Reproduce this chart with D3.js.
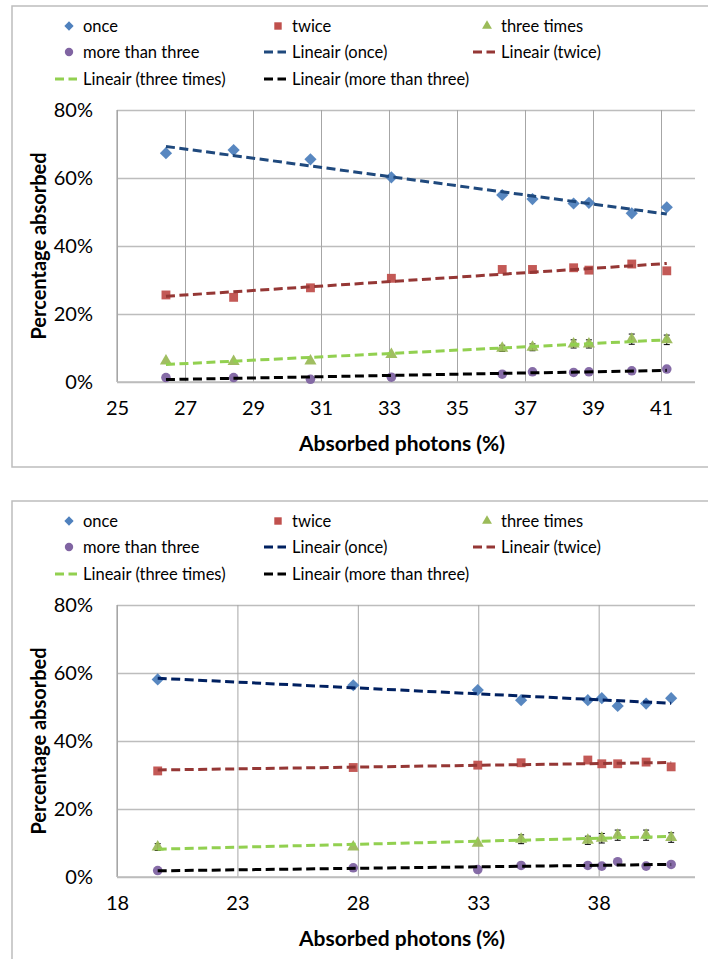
<!DOCTYPE html>
<html>
<head>
<meta charset="utf-8">
<script src="https://cdn.jsdelivr.net/npm/d3@7"></script>
<style>
  html, body { margin: 0; padding: 0; background: #fff; }
  svg { display: block; }
  text { font-family: Lato, "Open Sans", sans-serif; fill: #000; }
</style>
</head>
<body>
<svg id="chart" width="708" height="959"></svg>
<script>
// Upper panel
const topX      = [26.44, 28.43, 30.69, 33.07, 36.33, 37.22, 38.43, 38.88, 40.14, 41.17];
const topOnce   = [67.3, 68.2, 65.5, 60.2, 55.0, 53.8, 52.5, 52.7, 49.6, 51.4];
const topTwice  = [25.6, 24.9, 27.7, 30.5, 33.1, 33.1, 33.6, 32.9, 34.7, 32.7];
const topThree  = [6.2, 6.0, 6.2, 8.1, 9.9, 10.2, 11.2, 11.2, 12.6, 12.4];
const topMore   = [1.3, 1.3, 0.8, 1.4, 2.3, 3.0, 2.8, 3.0, 3.3, 3.8];
const topThreeErr = [0, 0, 0, 0, 0.9, 1.0, 1.2, 1.2, 1.5, 1.4];
const topXTicks = [25, 27, 29, 31, 33, 35, 37, 39, 41];

// Lower panel
const botX      = [19.69, 27.81, 32.98, 34.78, 37.55, 38.13, 38.79, 39.97, 41.01];
const botOnce   = [58.1, 56.4, 55.0, 52.0, 52.0, 52.6, 50.3, 51.0, 52.6];
const botTwice  = [31.2, 32.2, 32.9, 33.6, 34.4, 33.3, 33.3, 33.8, 32.4];
const botThree  = [8.8, 8.8, 9.9, 11.1, 10.8, 11.4, 12.3, 12.3, 11.6];
const botMore   = [1.9, 2.7, 2.2, 3.4, 3.4, 3.2, 4.5, 3.2, 3.7];
const botThreeErr = [1.0, 0, 0, 1.3, 1.2, 1.4, 1.5, 1.5, 1.4];
const botXTicks = [18, 23, 28, 33, 38];

const yTicks = [0, 20, 40, 60, 80];
const seriesNames = ["once", "twice", "three times", "more than three"];
const xTitle = "Absorbed photons (%)";
const yTitle = "Percentage absorbed";

const svg = d3.select("#chart");

const markerColors = ["#4F81BD", "#C0504D", "#9BBB59", "#8064A2"];
const symbols = [d3.symbolDiamond2, d3.symbolSquare2, d3.symbolTriangle2, d3.symbolCircle];
const symbolSizes = [95, 100, 105, 72];
const legendSizes = [55, 70, 70, 55];

function fitLine(xs, ys) {
  const n = xs.length;
  const mx = d3.mean(xs), my = d3.mean(ys);
  let sxy = 0, sxx = 0;
  for (let i = 0; i < n; i++) { sxy += (xs[i] - mx) * (ys[i] - my); sxx += (xs[i] - mx) ** 2; }
  const b = sxy / sxx, a = my - b * mx;
  const x0 = d3.min(xs), x1 = d3.max(xs);
  return [[x0, a + b * x0], [x1, a + b * x1]];
}

function drawPanel(top, cfg) {
  const g = svg.append("g").attr("transform", `translate(0,${top})`);

  // outer frame
  g.append("rect").attr("x", 12).attr("y", 0).attr("width", 710).attr("height", cfg.frameH)
    .attr("fill", "#fff").attr("stroke", "#BDBDBD").attr("stroke-width", 1.5);

  const left = 117, right = 695, plotTop = 104, plotBottom = 376;
  const x = d3.scaleLinear().domain(cfg.xDomain).range([left, right]);
  const y = d3.scaleLinear().domain([0, 80]).range([plotBottom, plotTop]);

  // horizontal gridlines + y labels
  const yAxis = d3.axisLeft(y).tickValues(yTicks).tickFormat(d => d + "%")
    .tickSizeInner(-(right - left)).tickSizeOuter(0).tickPadding(24);
  const yg = g.append("g").attr("transform", `translate(${left},0)`).call(yAxis);
  yg.select(".domain").remove();
  yg.selectAll(".tick line").attr("stroke", "#BDBDBD").attr("stroke-width", 1.3);
  yg.selectAll(".tick text").attr("font-size", 20).attr("x", -24)
    .style("font-family", "Lato, sans-serif");

  // vertical gridlines + x labels
  const xAxis = d3.axisBottom(x).tickValues(cfg.xTicks).tickFormat(d3.format("d"))
    .tickSizeInner(-(plotBottom - plotTop)).tickSizeOuter(0).tickPadding(19);
  const xg = g.append("g").attr("transform", `translate(0,${plotBottom})`).call(xAxis);
  xg.select(".domain").remove();
  xg.selectAll(".tick line").attr("stroke", "#A6A6A6").attr("stroke-width", 1);
  xg.selectAll(".tick text").attr("font-size", 20).style("font-family", "Lato, sans-serif");

  // axis lines
  g.append("line").attr("x1", left).attr("x2", left).attr("y1", plotTop).attr("y2", plotBottom)
    .attr("stroke", "#A6A6A6").attr("stroke-width", 1.2);
  g.append("line").attr("x1", left).attr("x2", right).attr("y1", plotBottom).attr("y2", plotBottom)
    .attr("stroke", "#BDBDBD").attr("stroke-width", 1.5);

  // axis titles
  g.append("text").attr("x", (left + right) / 2 - 4).attr("y", plotBottom + 69)
    .attr("text-anchor", "middle").attr("font-size", 21).attr("font-weight", "bold").text(xTitle);
  g.append("text").attr("transform", `translate(46,${(plotTop + plotBottom) / 2}) rotate(-90)`)
    .attr("text-anchor", "middle").attr("font-size", 20).attr("font-weight", "bold").text(yTitle);

  const lineGen = d3.line().x(d => x(d[0])).y(d => y(d[1]));
  const series = cfg.series;

  // error bars on "three times" (behind the markers)
  const eg = g.append("g");
  cfg.xs.forEach((xv, i) => {
    const e = cfg.threeErr[i];
    if (!e) return;
    const cx = x(xv), yt = y(series[2][i] + e), yb = y(series[2][i] - e);
    eg.append("line").attr("x1", cx).attr("x2", cx).attr("y1", yt).attr("y2", yb)
      .attr("stroke", "#000").attr("stroke-width", 1);
    [yt, yb].forEach(yy => eg.append("line").attr("x1", cx - 3).attr("x2", cx + 3)
      .attr("y1", yy).attr("y2", yy).attr("stroke", "#000").attr("stroke-width", 1));
  });

  // markers
  series.forEach((vals, si) => {
    const sym = d3.symbol().type(symbols[si]).size(symbolSizes[si]);
    g.append("g").selectAll("path").data(cfg.xs.map((xv, i) => [xv, vals[i]])).join("path")
      .attr("transform", d => `translate(${x(d[0])},${y(d[1])})`)
      .attr("d", sym).attr("fill", markerColors[si]).attr("opacity", 0.95);
  });

  // linear trend lines
  series.forEach((vals, si) => {
    g.append("path").datum(fitLine(cfg.xs, vals)).attr("d", lineGen)
      .attr("fill", "none").attr("stroke", cfg.trendColors[si])
      .attr("stroke-width", 3).attr("stroke-dasharray", "9,4.5");
  });

  // legend
  const colText = [83, 292, 501];
  const rowY = [20, 46, 73];
  const entries = [
    { kind: "m", s: 0 }, { kind: "m", s: 1 }, { kind: "m", s: 2 },
    { kind: "m", s: 3 }, { kind: "l", s: 0 }, { kind: "l", s: 1 },
    { kind: "l", s: 2 }, { kind: "l", s: 3 }
  ];
  entries.forEach((en, k) => {
    const tx = colText[k % 3], ty = rowY[Math.floor(k / 3)];
    if (en.kind === "m") {
      g.append("path").attr("transform", `translate(${tx - 14},${ty})`)
        .attr("d", d3.symbol().type(symbols[en.s]).size(legendSizes[en.s]))
        .attr("fill", markerColors[en.s]);
      g.append("text").attr("x", tx).attr("y", ty).attr("dy", "0.36em")
        .attr("font-size", 16.5).text(seriesNames[en.s]);
    } else {
      g.append("line").attr("x1", tx - 28).attr("x2", tx - 6).attr("y1", ty).attr("y2", ty)
        .attr("stroke", cfg.trendColors[en.s]).attr("stroke-width", 3)
        .attr("stroke-dasharray", "9,4.5");
      g.append("text").attr("x", tx).attr("y", ty).attr("dy", "0.36em")
        .attr("font-size", 16.5).text(`Lineair (${seriesNames[en.s]})`);
    }
  });
}

drawPanel(6, {
  frameH: 461,
  xDomain: [25, 42],
  xTicks: topXTicks,
  xs: topX,
  series: [topOnce, topTwice, topThree, topMore],
  threeErr: topThreeErr,
  trendColors: ["#1F497D", "#953735", "#92D050", "#000000"]
});

drawPanel(501, {
  frameH: 470,
  xDomain: [18, 42],
  xTicks: botXTicks,
  xs: botX,
  series: [botOnce, botTwice, botThree, botMore],
  threeErr: botThreeErr,
  trendColors: ["#002060", "#953735", "#92D050", "#000000"]
});
</script>
</body>
</html>
